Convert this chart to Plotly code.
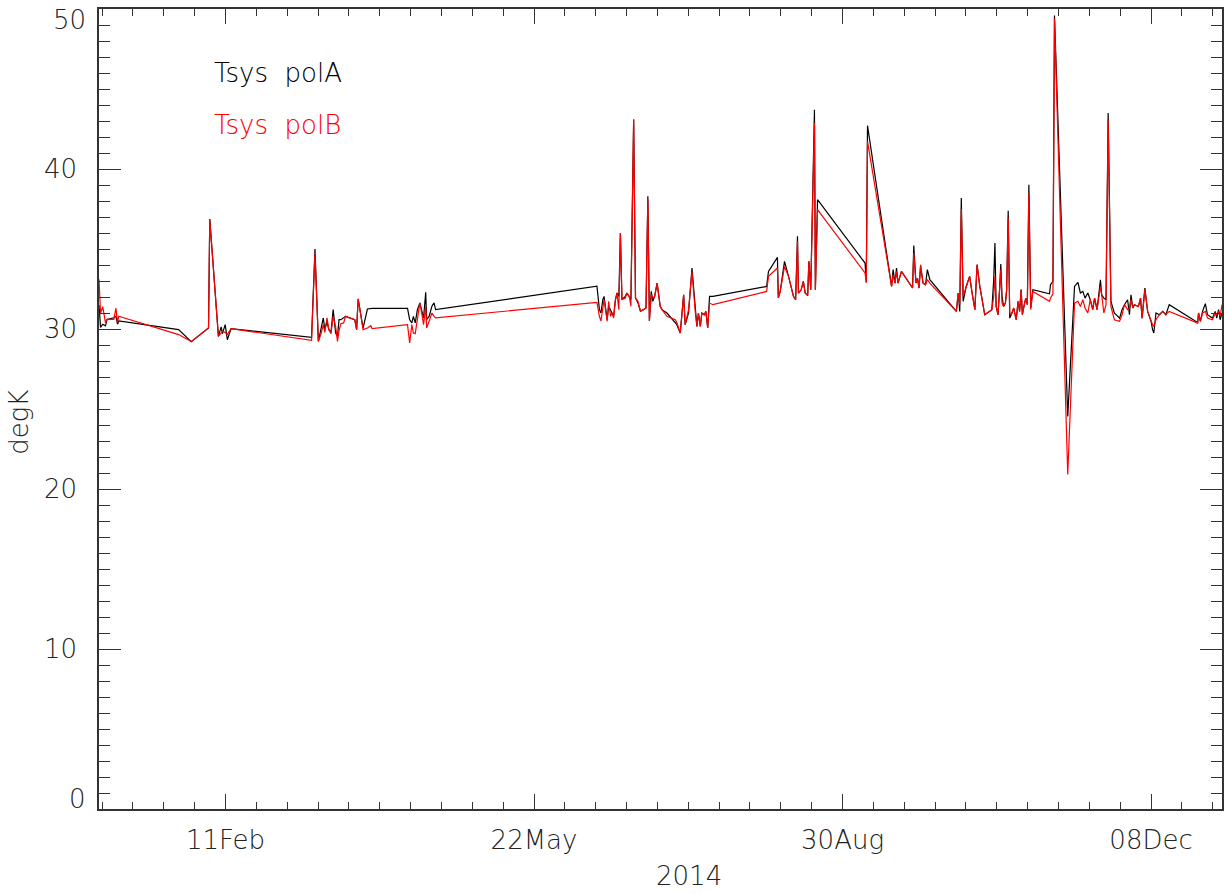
import datetime as dt
import plotly.graph_objects as go

# Day of year 2014 (days since 2014-01-01 00:00) of each Tsys measurement
days = [
    0.0, 0.5, 1.2, 2.1, 2.6, 4.8, 5.5, 6.0, 6.4, 25.8, 29.9, 35.5, 35.9, 38.7, 39.6, 40.0,
    40.9, 41.6, 42.8, 68.9, 70.0, 71.1, 71.9, 72.7, 73.2, 73.9, 74.5, 75.2, 75.9, 76.7,
    77.3, 77.8, 78.4, 79.3, 79.9, 82.9, 83.5, 84.0, 85.6, 87.0, 88.1, 88.5, 100.0, 100.7,
    101.4, 101.9, 102.5, 103.2, 104.0, 104.6, 105.2, 105.9, 106.2, 107.0, 107.9, 108.6,
    109.1, 161.4, 161.8, 162.2, 162.7, 163.3, 163.7, 164.2, 164.7, 165.2, 165.8, 166.3,
    166.8, 167.4, 167.9, 168.5, 169.0, 169.5, 170.6, 171.1, 171.9, 172.4, 173.3, 173.9,
    174.7, 175.5, 176.5, 177.3, 177.9, 178.4, 179.0, 179.5, 180.1, 180.9, 181.9, 182.5,
    184.1, 186.8, 187.3, 188.4, 189.5, 190.0, 191.1, 192.2, 193.3, 193.8, 194.3, 194.9,
    195.4, 196.2, 196.7, 197.3, 197.9, 199.0, 216.4, 217.0, 219.9, 220.2, 220.8, 222.2,
    223.5, 225.1, 225.8, 226.4, 226.7, 227.6, 228.3, 228.9, 229.7, 230.1, 230.7, 231.9,
    232.2, 232.9, 248.3, 248.7, 249.1, 256.9, 257.4, 258.0, 258.5, 259.0, 260.1, 263.7,
    264.1, 264.8, 265.3, 265.8, 266.3, 267.1, 267.9, 268.5, 269.3, 277.9, 278.5, 279.0,
    279.5, 280.1, 281.1, 282.2, 283.0, 283.9, 284.6, 285.5, 287.1, 288.7, 289.4, 290.0,
    290.4, 290.8, 291.4, 291.9, 292.3, 292.7, 293.2, 293.8, 294.2, 294.7, 295.2, 295.7,
    296.5, 296.8, 297.3, 297.9, 298.4, 298.9, 299.3, 299.8, 300.4, 300.9, 301.4, 302.0,
    302.7, 308.1, 308.4, 309.2, 309.7, 314.0, 316.2, 317.3, 318.1, 318.9, 319.6, 320.5,
    321.3, 322.1, 322.7, 323.5, 324.6, 325.0, 325.7, 326.4, 327.1, 328.0, 329.1, 330.8,
    331.6, 332.4, 333.4, 334.0, 334.5, 335.1, 335.6, 336.9, 337.6, 338.1, 339.0, 339.9,
    341.0, 341.5, 341.9, 342.6, 343.7, 344.8, 345.8, 346.9, 356.1, 356.4, 357.0, 357.7,
    358.6, 359.3, 360.9, 361.8, 362.3, 362.9, 363.4, 364.0,
]

# System temperature, polarisation A (degK)
tsys_polA = [
    31.5, 30.1, 30.3, 30.2, 30.6, 30.7, 30.8, 30.3, 30.5, 29.96, 29.21, 30.06, 36.88, 29.54, 30.13, 29.71,
    30.27, 29.33, 30.02, 29.48, 35.0, 29.23, 29.96, 30.69, 29.96, 30.48, 29.96, 29.8, 31.21, 29.75,
    29.54, 30.58, 30.58, 30.69, 30.79, 30.58, 29.96, 31.88, 30.06, 31.25, 31.29, 31.29, 31.29, 30.58,
    30.38, 30.79, 30.38, 31.21, 31.63, 31.21, 30.69, 32.29, 30.58, 30.79, 31.42, 31.63,
    31.21, 32.67, 31.73, 31.21, 31.0, 31.84, 32.04, 31.21, 30.58, 31.42, 31.21, 31.0,
    30.79, 31.84, 32.25, 32.04, 36.0, 31.84, 32.04, 32.25, 32.04, 31.84, 43.1, 31.94,
    31.63, 31.11, 31.21, 31.31, 38.3, 30.5, 32.35, 31.73, 32.04, 32.87, 31.42, 31.21,
    31.0, 30.38, 30.27, 29.75, 32.14, 30.27, 31.0, 33.81, 31.0, 30.16, 31.0, 30.16,
    31.0, 30.89, 31.1, 30.06, 32.04, 32.04, 32.66, 33.6, 34.48, 31.94, 32.35, 34.23,
    33.29, 32.04, 31.83, 35.79, 32.25, 32.45, 32.98, 32.25, 32.08, 34.23, 32.45, 43.71,
    32.45, 38.08, 34.12, 32.91, 42.71, 32.66, 33.71, 32.87, 33.81, 32.87, 33.6, 32.56,
    35.21, 32.87, 33.18, 32.56, 33.91, 32.87, 32.77, 33.71, 33.08, 31.1, 32.25, 31.1,
    38.18, 31.73, 32.66, 33.29, 32.25, 31.21, 34.02, 32.66, 30.89, 31.1, 31.21, 33.08,
    35.37, 31.41, 30.89, 32.46, 34.06, 32.04, 31.41, 31.62, 32.46, 37.39, 30.68, 30.89,
    31.31, 31.0, 30.58, 31.73, 31.1, 32.46, 30.89, 31.41, 31.93, 31.52, 39.02, 31.31,
    32.46, 32.2, 32.77, 32.98, 49.6, 24.54, 32.66, 32.91, 32.25, 32.35, 31.93, 32.25,
    31.83, 31.21, 31.93, 31.21, 33.08, 32.14, 31.93, 31.83, 43.5, 31.73, 31.0, 30.68,
    31.21, 31.52, 31.83, 30.89, 32.14, 31.31, 31.52, 31.41, 31.93, 30.68, 32.56, 31.1,
    30.48, 29.96, 29.75, 31.0, 30.89, 31.1, 30.89, 31.52, 30.41, 31.0, 30.48, 31.1,
    31.58, 30.89, 30.68, 31.1, 30.68, 31.21, 30.58, 31.0,
]

# System temperature, polarisation B (degK)
tsys_polB = [
    33.1, 31.0, 31.4, 30.4, 30.6, 30.6, 31.3, 30.4, 30.8, 29.65, 29.21, 30.06, 36.88, 29.54, 29.75, 29.85,
    29.79, 29.65, 30.02, 29.29, 34.75, 29.23, 29.65, 30.27, 29.79, 30.69, 29.96, 29.71, 30.79, 30.17,
    29.23, 29.9, 30.33, 30.38, 30.79, 30.58, 29.96, 31.88, 29.96, 30.06, 30.21, 30.02, 30.27, 29.13,
    30.27, 29.75, 29.71, 30.58, 31.63, 31.0, 30.27, 31.42, 30.06, 30.48, 31.0, 30.79,
    30.69, 31.67, 31.21, 30.79, 30.5, 31.42, 31.84, 31.21, 30.48, 31.73, 30.79, 31.0,
    30.69, 31.84, 32.25, 31.21, 36.0, 31.84, 31.94, 32.25, 32.04, 31.42, 43.1, 31.94,
    31.73, 31.11, 31.21, 31.31, 38.1, 30.5, 32.15, 31.94, 32.04, 32.87, 31.42, 31.21,
    30.79, 30.58, 30.4, 29.75, 32.14, 30.27, 31.21, 33.6, 31.0, 30.16, 31.0, 30.16,
    31.0, 30.89, 31.1, 30.06, 31.62, 31.52, 32.35, 33.29, 33.81, 31.94, 32.35, 33.91,
    33.29, 32.04, 31.83, 35.48, 32.25, 32.45, 32.98, 32.25, 32.08, 34.23, 32.45, 42.87,
    32.45, 37.46, 33.5, 32.91, 41.73, 32.66, 33.39, 32.87, 33.6, 32.87, 33.6, 32.56,
    34.75, 32.87, 33.18, 32.56, 34.02, 32.87, 32.77, 33.08, 32.87, 31.1, 32.25, 31.52,
    37.5, 32.04, 32.66, 33.29, 32.25, 31.21, 34.02, 32.66, 30.89, 31.1, 31.21, 32.04,
    33.29, 31.41, 30.89, 32.46, 33.71, 31.62, 31.41, 31.62, 32.46, 36.93, 31.0, 30.89,
    31.31, 31.0, 30.58, 31.73, 31.1, 32.46, 30.89, 31.41, 31.93, 31.52, 38.5, 31.21,
    32.35, 31.73, 31.93, 32.2, 49.4, 20.9, 31.62, 31.73, 31.41, 31.83, 31.31, 31.0,
    31.83, 31.21, 31.93, 31.21, 32.66, 32.14, 31.0, 31.52, 43.08, 31.41, 30.58, 30.48,
    30.89, 31.52, 31.21, 31.3, 31.83, 31.31, 31.52, 31.41, 31.93, 30.68, 32.46, 31.1,
    30.48, 30.27, 30.16, 30.58, 30.89, 31.1, 30.89, 31.1, 30.37, 31.0, 30.48, 31.0,
    31.1, 30.68, 30.58, 31.0, 30.89, 31.1, 30.79, 31.52,
]

x_tick_labels = ["11Feb", "22May", "30Aug", "08Dec"]
y_tick_values = [0, 10, 20, 30, 40, 50]
series_names = ["Tsys  polA", "Tsys  polB"]

start = dt.datetime(2014, 1, 1)
dates = [start + dt.timedelta(days=d) for d in days]
DAY_MS = 86400000

FONT = dict(family="DejaVu Sans", size=26, color="#222222", weight=300)

fig = go.Figure()
fig.add_trace(go.Scatter(x=dates, y=tsys_polA, mode="lines", name=series_names[0],
                         line=dict(color="black", width=1.2)))
fig.add_trace(go.Scatter(x=dates, y=tsys_polB, mode="lines", name=series_names[1],
                         line=dict(color="#ff0000", width=1.2)))

axis_common = dict(showline=True, linecolor="#333333", linewidth=1.5, mirror="ticks",
                   ticks="inside", tickcolor="#333333", tickwidth=1.3, showgrid=False,
                   zeroline=False, tickfont=FONT)

fig.update_xaxes(type="date", range=["2014-01-01", "2014-12-31"],
                 tick0="2014-02-11", dtick=100 * DAY_MS, tickformat="%d%b",
                 ticklen=15, ticklabelstandoff=7,
                 minor=dict(ticks="inside", tick0="2014-02-11", dtick=10 * DAY_MS,
                            ticklen=7, tickcolor="#333333", tickwidth=1.3, showgrid=False),
                 **axis_common)
# End labels (0 and 50) are drawn as annotations shifted inward, as in the reference
inner_labels = [str(v) if 0 < v < 50 else "" for v in y_tick_values]
fig.update_yaxes(range=[0, 50], tickvals=y_tick_values, ticktext=inner_labels,
                 ticklen=22, ticklabelstandoff=15,
                 minor=dict(ticks="inside", dtick=1, ticklen=11, tickcolor="#333333",
                            tickwidth=1.3, showgrid=False),
                 **axis_common)

annotations = [
    dict(text=series_names[0].replace("  ", "\u00a0\u00a0"), x=0.1005, y=0.92, xref="paper", yref="paper",
         xanchor="left", yanchor="middle", showarrow=False, font=dict(FONT, color="black")),
    dict(text=series_names[1].replace("  ", "\u00a0\u00a0"), x=0.1005, y=0.855, xref="paper", yref="paper",
         xanchor="left", yanchor="middle", showarrow=False, font=dict(FONT, color="#ff0000")),
    dict(text="2014", x=0.525, y=-0.084, xref="paper", yref="paper", xanchor="center",
         yanchor="middle", showarrow=False, font=FONT),
    dict(text="degK", x=-0.072, y=0.483, xref="paper", yref="paper", xanchor="center",
         yanchor="middle", textangle=-90, showarrow=False, font=FONT),
    dict(text=str(y_tick_values[-1]), x=-0.0098, y=y_tick_values[-1] - 0.7, xref="paper", yref="y",
         xanchor="right", yanchor="middle", showarrow=False, font=FONT),
    dict(text=str(y_tick_values[0]), x=-0.0098, y=y_tick_values[0] + 0.6, xref="paper", yref="y",
         xanchor="right", yanchor="middle", showarrow=False, font=FONT),
]

fig.update_layout(width=1227, height=894, showlegend=False,
                  margin=dict(l=99, r=3, t=9, b=85),
                  paper_bgcolor="white", plot_bgcolor="white",
                  annotations=annotations, font=FONT)

fig.write_html("out.html", config={"displayModeBar": False},
               post_script="document.body.style.margin='0';document.body.style.overflow='hidden';")
